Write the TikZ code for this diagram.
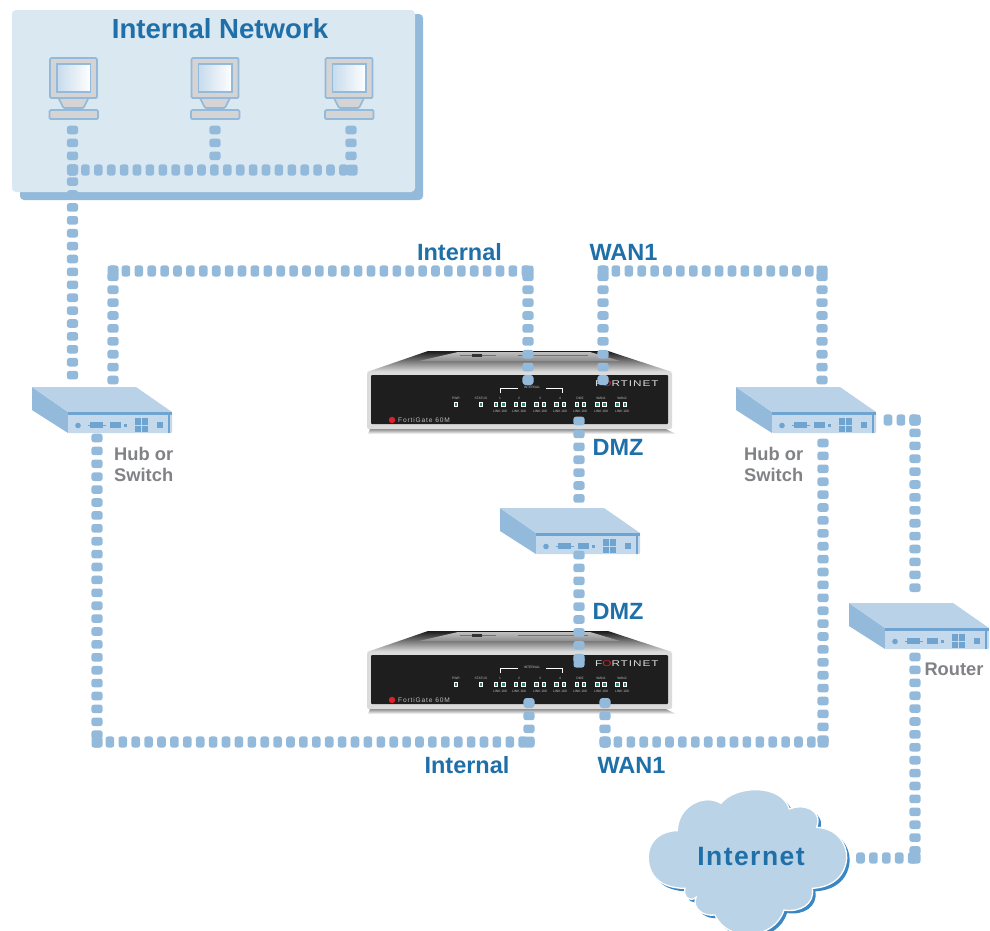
\documentclass[tikz,border=0pt]{standalone}
\usepackage{fontspec}
\usepackage{graphicx}
\setmainfont{Liberation Sans}
\usetikzlibrary{decorations.markings}
\definecolor{linkblue}{HTML}{94BADB}
\definecolor{netfill}{HTML}{DAE8F2}
\definecolor{labelblue}{HTML}{1F6FA8}
\definecolor{labelgray}{HTML}{808285}
\definecolor{hubtop}{HTML}{B9D2E7}
\definecolor{hubfront}{HTML}{C4DAEC}
\definecolor{hubside}{HTML}{94BADB}
\definecolor{hubdark}{HTML}{6FA3D0}
\definecolor{cloudfill}{HTML}{BAD3E7}
\definecolor{cloudedge}{HTML}{3B87C4}
\definecolor{panelblack}{HTML}{1E1E1E}
\definecolor{ledgreen}{HTML}{1F8F70}
\definecolor{fortired}{HTML}{E0202A}
\newcommand{\cloudoutline}{
  (135,325) .. controls (60,325) and (22,285) .. (25,225)
  .. controls (28,180) and (65,152) .. (112,152)
  .. controls (114,75) and (195,40) .. (243,70)
  .. controls (285,15) and (425,10) .. (448,87)
  .. controls (490,68) and (550,90) .. (530,142)
  .. controls (590,145) and (622,190) .. (620,235)
  .. controls (615,295) and (570,322) .. (517,325)
  .. controls (525,372) and (480,398) .. (432,390)
  .. controls (405,480) and (262,490) .. (225,405)
  .. controls (190,410) and (155,385) .. (168,352)
  .. controls (150,368) and (128,350) .. (135,325) -- cycle}
\tikzset{
  x=1pt,y=-1pt,
  bigblue/.style={text=labelblue,font=\bfseries\fontsize{23.5}{26}\selectfont,inner sep=0pt},
  graylabel/.style={text=labelgray,font=\bfseries\fontsize{18.3}{21}\selectfont,inner sep=0pt,align=left},
  tiny/.style={text=black!25,font=\fontsize{3.3}{4}\selectfont,inner sep=0pt},
  cdot/.style={fill=linkblue,rounded corners=2.5pt,minimum size=11pt,inner sep=0pt},
  dotlink/.style={postaction={decorate},decoration={markings,
    mark=between positions 0 and 1 step 12.9pt with {\fill[linkblue,rounded corners=2.5pt] (-4.3pt,-5.6pt) rectangle (4.3pt,5.6pt);}}},
  pcbox/.style={fill=black!17,draw=linkblue,line width=1.7pt,rounded corners=1.2pt},
  computer/.pic={
    \path[pcbox] (-23.5,-34) rectangle (23.5,6);
    \shade[left color=hubtop!80!white,right color=white,draw=linkblue,line width=1.7pt] (-16.5,-28) rectangle (17,0);
    \path[pcbox] (-15,6) -- (15,6) -- (10,16) -- (-10,16) -- cycle;
    \path[pcbox] (-24,18) rectangle (24.5,27);
  },
  hubbox/.pic={
    \fill[hubside] (0,0) -- (36,25) -- (36,46) -- (0,23) -- cycle;
    \fill[hubtop] (0,0) -- (104,0) -- (140,25) -- (36,25) -- cycle;
    \fill[hubfront,rounded corners=1pt] (36,25) -- (140,25) -- (140,46) -- (36,46) -- cycle;
    \fill[hubdark] (36,25) -- (140,25) -- (140,28) -- (36,28) -- cycle;
    \fill[hubdark] (136,25) rectangle (138,46);
    \fill[hubdark] (46,38.5) circle (2.8);
    \fill[hubdark] (58,35) rectangle (71,41);
    \fill[hubdark] (56,37.5) rectangle (74,38.5);
    \fill[hubdark] (78,35) rectangle (89,41);
    \fill[hubdark] (92,37) rectangle (95,39.5);
    \fill[hubdark] (103,31) rectangle (109,37.5);
    \fill[hubdark] (110,31) rectangle (116,37.5);
    \fill[hubdark] (103,38.5) rectangle (109,44.5);
    \fill[hubdark] (110,38.5) rectangle (116,44.5);
    \fill[hubdark] (125,35) rectangle (131,41);
  },
  firewall/.pic={
    % top face
    \shade[top color=black!90,bottom color=black!12] (60,-1) -- (240,-1) -- (304,20) -- (-1,20) -- cycle;
    \shade[top color=black!25,bottom color=black!45] (90,0) -- (222,0) -- (252,9) -- (51,9) -- cycle;
    \fill[black!55] (92,3) rectangle (128,4.2);
    \fill[black!80] (104,2) rectangle (114,5);
    \fill[black!55] (150,3) rectangle (220,4.2);
    % base
    \shade[top color=black!45,bottom color=white] (2,77) -- (298,77) -- (308,82) -- (0,82) -- cycle;
    % front panel
    \fill[black!14,rounded corners=2pt] (-1,20) rectangle (304,77);
    \fill[panelblack,rounded corners=1pt] (3,23) rectangle (300,72);
    % bracket
    \draw[white,line width=.8pt] (132.5,41) -- (132.5,36) -- (194,36) -- (194,41);
    \fill[panelblack] (150,34) rectangle (178,38);
    \node[tiny] (fwint) at (164,35) {INTERNAL};
    % leds
    \foreach \v in {288,363,408,431,468,491,530,552,590,612,651,672,712,734,773,795}{
      \fill[white] ({\v/3-10.4},50.2) rectangle ({\v/3-5.6},55);
      \fill[ledgreen] ({\v/3-9.4},51.2) rectangle ({\v/3-6.6},54);
    }
    \node[tiny] (pwr) at (88,46.5) {PWR};
    \node[tiny] (status) at (113,46.5) {STATUS};
    \node[tiny] (p1) at (132,46.5) {1};
    \node[tiny] (p2) at (151,46.5) {2};
    \node[tiny] (p3) at (172,46.5) {3};
    \node[tiny] (p4) at (192,46.5) {4};
    \node[tiny] (pd) at (212,46.5) {DMZ};
    \node[tiny] (pw1) at (233,46.5) {WAN1};
    \node[tiny] (pw2) at (254,46.5) {WAN2};
    \node[tiny] (l1) at (132,59) {LINK 100};
    \node[tiny] (l2) at (151,59) {LINK 100};
    \node[tiny] (l3) at (172,59) {LINK 100};
    \node[tiny] (l4) at (192,59) {LINK 100};
    \node[tiny] (l5) at (212,59) {LINK 100};
    \node[tiny] (l6) at (233,59) {LINK 100};
    \node[tiny] (l7) at (254,59) {LINK 100};
    % logos
    \node[text=black!15,font=\fontsize{8.4}{9}\selectfont,inner sep=0pt,anchor=west] (forti) at (227,32)
      {\scalebox{1.4}[1]{\addfontfeature{LetterSpace=8}F\textcolor{fortired}{O}RTINET}};
    \fill[fortired] (24,68) circle (3.2);
    \node[text=black!25,font=\fontsize{6.6}{7}\selectfont,inner sep=0pt,anchor=west] (fgname) at (30,68)
      {\addfontfeature{LetterSpace=13}FortiGate 60M};
  },
}
\begin{document}
\begin{tikzpicture}
\useasboundingbox (0,0) rectangle (990,930);
\fill[white] (0,0) rectangle (990,930);

% internal network panel
\fill[linkblue,rounded corners=4pt] (20,14) rectangle (423,200);
\fill[netfill,rounded corners=4pt] (12,10) rectangle (415,192);
\node[text=labelblue,font=\bfseries\fontsize{27.6}{30}\selectfont,inner sep=0pt] (nettitle) at (220,29) {Internal Network};

\pic (pc1) at (73.5,92) {computer};
\pic (pc2) at (215,92) {computer};
\pic (pc3) at (349,92) {computer};

% devices
\pic (fwa) at (368,352) {firewall};
\pic (fwb) at (368,632) {firewall};
\pic (huba) at (32,387) {hubbox};
\pic (hubb) at (736,387) {hubbox};
\pic (hubc) at (500,508) {hubbox};
\pic (hubd) at (849,603) {hubbox};

% cloud
\path[fill=cloudedge,shift={(643,783)},scale=1/3] \cloudoutline;
\path[fill=cloudfill,draw=white,line width=1.3pt,shift={(640,780)},scale=1/3] \cloudoutline;
\node[text=labelblue,font=\bfseries\fontsize{26.5}{28}\selectfont,inner sep=0pt] (inet) at (751,856) {\addfontfeature{LetterSpace=5.5}Internet};

% connector joints
\node[cdot] (j1) at (72.5,170) {};
\node[cdot] (j2) at (352,170) {};
\node[cdot] (tl) at (113,271) {};
\node[cdot] (tm) at (528,271) {};
\node[cdot] (tn) at (603,271) {};
\node[cdot] (tr) at (822,271) {};
\node[cdot] (bl) at (97,742) {};
\node[cdot] (bm) at (529,742) {};
\node[cdot] (bn) at (605,742) {};
\node[cdot] (br) at (823,742) {};
\node[cdot] (ra) at (915,420) {};
\node[cdot] (rb) at (915,858) {};

% free ends
\coordinate (pc1end) at (72.5,130);
\coordinate (pc2end) at (215,130);
\coordinate (pc2low) at (215,157);
\coordinate (pc3end) at (351,130);
\coordinate (pc3low) at (351,157);
\coordinate (h1a) at (72.5,378);
\coordinate (h1b) at (113,380);
\coordinate (h1c) at (97,438);
\coordinate (fw1i) at (528,380);
\coordinate (fw1w) at (603,380);
\coordinate (fw1d) at (579,421);
\coordinate (h3t) at (579,500);
\coordinate (h3b) at (579,555);
\coordinate (fw2d) at (579,662);
\coordinate (fw2i) at (529,703);
\coordinate (fw2w) at (605,703);
\coordinate (h2a) at (822,380);
\coordinate (h2b) at (823,443);
\coordinate (h2c) at (888,420);
\coordinate (h4t) at (915,600);
\coordinate (h4b) at (915,657);
\coordinate (cloudr) at (860.5,858);

\path[dotlink] (pc1end) -- (h1a);
\path[dotlink] (pc2end) -- (pc2low);
\path[dotlink] (pc3end) -- (pc3low);
\path[dotlink] (j1.center) -- (j2.center);
\path[dotlink] (h1b) -- (tl.center);
\path[dotlink] (tl.center) -- (tm.center);
\path[dotlink] (fw1i) -- (tm.center);
\path[dotlink] (fw1w) -- (tn.center);
\path[dotlink] (tn.center) -- (tr.center);
\path[dotlink] (h2a) -- (tr.center);
\path[dotlink] (fw1d) -- (h3t);
\path[dotlink] (h3b) -- (fw2d);
\path[dotlink] (h1c) -- (bl.center);
\path[dotlink] (bl.center) -- (bm.center);
\path[dotlink] (fw2i) -- (bm.center);
\path[dotlink] (fw2w) -- (bn.center);
\path[dotlink] (bn.center) -- (br.center);
\path[dotlink] (h2b) -- (br.center);
\path[dotlink] (h2c) -- (ra.center);
\path[dotlink] (ra.center) -- (h4t);
\path[dotlink] (h4b) -- (rb.center);
\path[dotlink] (cloudr) -- (rb.center);
\node[cdot,minimum size=10pt] (fwd1) at (603,380) {};
\node[cdot,minimum size=10pt] (fwd2) at (528,380) {};
\node[cdot,minimum size=11pt] (fwd3) at (579,662) {};
\node[cdot,minimum size=10pt] (fwd4) at (529,703) {};
\node[cdot,minimum size=10pt] (fwd5) at (605,703) {};

% labels
\node[bigblue] (lint1) at (459.5,252) {Internal};
\node[bigblue] (lwan1) at (623.5,252) {WAN1};
\node[bigblue] (ldmz1) at (618,447) {DMZ};
\node[bigblue] (ldmz2) at (618,611) {DMZ};
\node[bigblue] (lint2) at (467,765) {Internal};
\node[bigblue] (lwan2) at (631.5,765) {WAN1};
\node[graylabel,anchor=west] (lhub1) at (114,464.5) {Hub or\\Switch};
\node[graylabel,anchor=west] (lhub2) at (744,464.5) {Hub or\\Switch};
\node[graylabel] (lrouter) at (954,669) {Router};
\end{tikzpicture}
\end{document}
